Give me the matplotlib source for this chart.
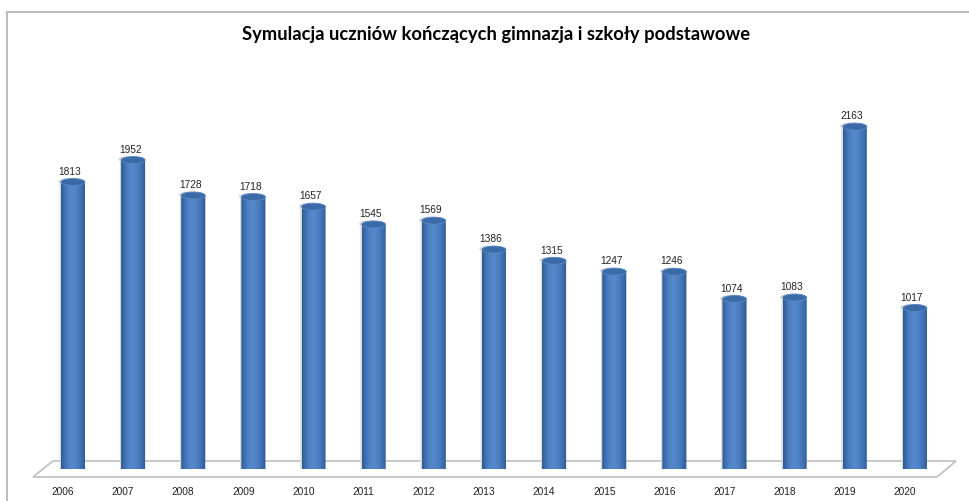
import numpy as np
import matplotlib.pyplot as plt
import matplotlib.transforms as mtrans
from matplotlib.patches import Ellipse, Polygon, PathPatch
from matplotlib.path import Path
from matplotlib.lines import Line2D
from matplotlib.colors import LinearSegmentedColormap

years = ['2006', '2007', '2008', '2009', '2010', '2011', '2012', '2013',
         '2014', '2015', '2016', '2017', '2018', '2019', '2020']
students = [1813, 1952, 1728, 1718, 1657, 1545, 1569, 1386,
            1315, 1247, 1246, 1074, 1083, 2163, 1017]

W, H = 969, 502
fig = plt.figure(figsize=(W / 100, H / 100), dpi=100)
fig.patch.set_facecolor('white')

def px(x, y):
    # pixel (from top-left) -> figure fraction
    return x / W, 1 - y / H

# outer chart frame
fig.add_artist(Line2D([7 / W, 1], [1 - 13 / H, 1 - 13 / H], color='#BDBDBD', lw=1.4, transform=fig.transFigure))
fig.add_artist(Line2D([7 / W, 7 / W], [0, 1 - 13 / H], color='#BDBDBD', lw=1.4, transform=fig.transFigure))

# 3d floor
floor = [px(53, 462), px(956, 462), px(937, 478), px(33, 478)]
fig.add_artist(Polygon(floor, closed=True, facecolor='white', edgecolor='#BFBFBF',
                       lw=1.2, transform=fig.transFigure, zorder=-1))

ax = fig.add_axes([42.9 / W, 32 / H, 902.1 / W, 379.9 / H])
ax.patch.set_visible(False)
for s in ax.spines.values():
    s.set_visible(False)

cmap = LinearSegmentedColormap.from_list('cyl', ['#2F5B93', '#4374B6', '#5285C8', '#5588CC',
                                                 '#4C7EC2', '#3F6FB0', '#2D5891'])
grad = np.linspace(0, 1, 64)[None, :]

w = 0.4
eh = 44
xs = np.arange(len(years))
lab_shift = mtrans.ScaledTranslation(-3 / 100, 0, fig.dpi_scale_trans)
for x, v in zip(xs, students):
    t = np.linspace(np.pi, 2 * np.pi, 40)
    verts = [(x - w / 2, v)] + [(x + w / 2 * np.cos(a), eh / 2 * np.sin(a)) for a in t] + [(x + w / 2, v), (x - w / 2, v)]
    codes = [Path.MOVETO] + [Path.LINETO] * (len(verts) - 2) + [Path.CLOSEPOLY]
    body = PathPatch(Path(verts, codes), facecolor='none', edgecolor='none')
    ax.add_patch(body)
    # faint shadow
    ax.add_patch(Ellipse((x - 0.03, v + 4), w + 0.03, eh, facecolor='#D8D8D8', edgecolor='none', zorder=0.5))
    ax.add_patch(PathPatch(Path([(p[0] - 0.02, p[1]) for p in verts], codes), facecolor='#D8D8D8',
                           edgecolor='none', zorder=0.5))
    im = ax.imshow(grad, cmap=cmap, extent=(x - w / 2, x + w / 2, -eh / 2, v), aspect='auto', zorder=1)
    im.set_clip_path(body)
    ax.add_patch(Ellipse((x, v), w, eh, facecolor='#3B6AA9', edgecolor='#5A88C6', lw=0.6, zorder=2))
    ax.text(x, v + eh / 2 + 18, str(v), ha='center', va='bottom', fontsize=7.3,
            family='Liberation Sans', color='#222222', transform=ax.transData + lab_shift)

ax.set_xlim(-0.5, len(years) - 0.5)
ax.set_ylim(0, 2400)
ax.set_yticks([])
ax.set_xticks(xs, years, fontsize=7.3, family='Liberation Sans', color='#222222')
ax.tick_params(axis='x', length=0, pad=12.5)
year_shift = mtrans.ScaledTranslation(-10 / 100, 0, fig.dpi_scale_trans)
for lbl in ax.get_xticklabels():
    lbl.set_transform(lbl.get_transform() + year_shift)

fig.text(496 / W, 1 - 35 / H, 'Symulacja uczniów kończących gimnazja i szkoły podstawowe',
         ha='center', va='center', fontsize=13.25, fontweight='bold', family='Lato')

fig.savefig('out.png', dpi=100)
